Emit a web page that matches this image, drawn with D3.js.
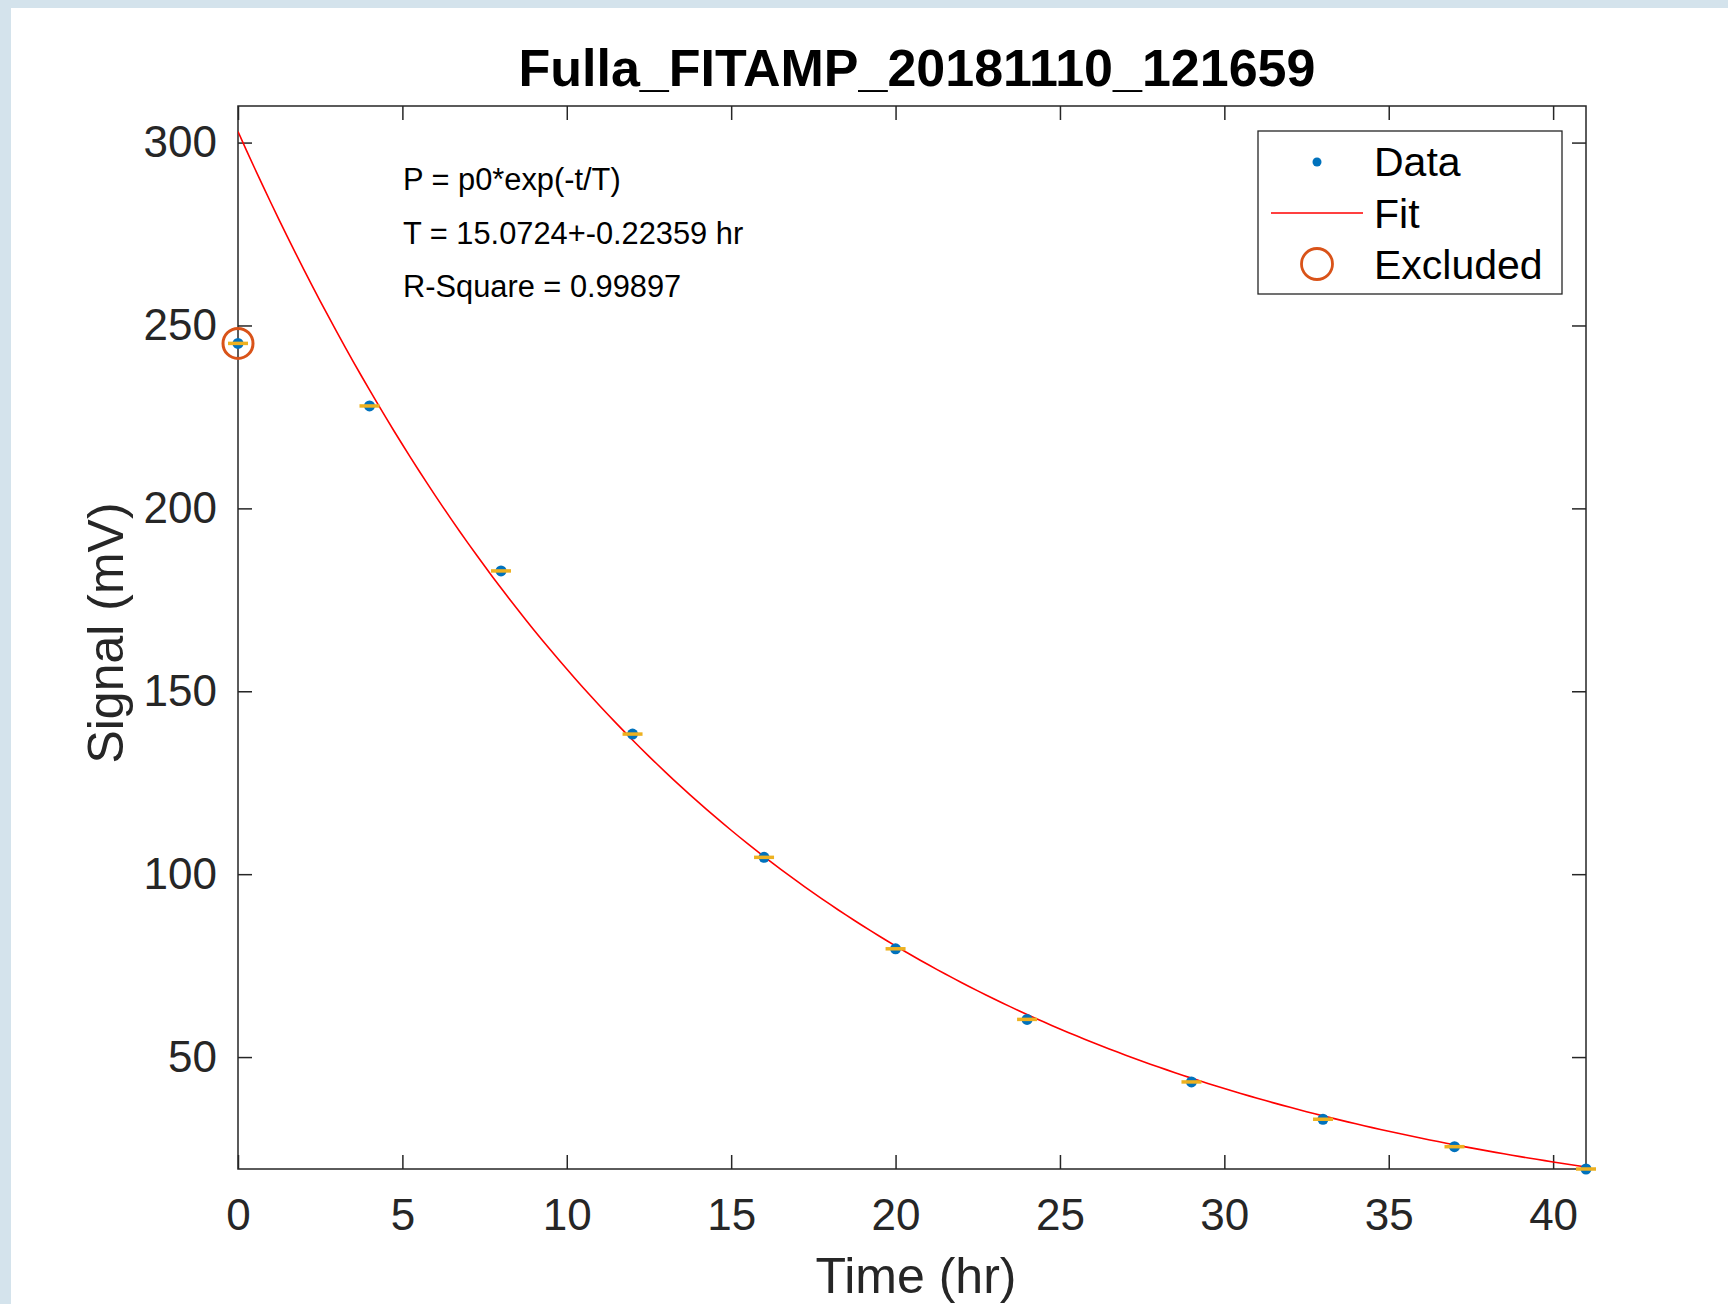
<!DOCTYPE html>
<html>
<head>
<meta charset="utf-8">
<script src="https://cdn.jsdelivr.net/npm/d3@7/dist/d3.min.js"></script>
<style>
  html, body { margin: 0; padding: 0; background: #d4e3ec; }
  svg { display: block; }
  text { font-family: "Liberation Sans", Arial, Helvetica, sans-serif; }
</style>
</head>
<body>
<script>
// Measured decay: time (hr) and signal (mV)
const times   = [0, 4, 8, 12, 16, 20, 24, 29, 33, 37, 41];
const signals = [245.1, 228.0, 182.9, 138.3, 104.6, 79.6, 60.3, 43.2, 33.0, 25.5, 19.4];
// Points left out of the fit
const excludedTimes   = [0];
const excludedSignals = [245.1];
// Exponential fit parameters
const fitP0 = 303;
const fitT = 15.0724;
const fitTErr = 0.22359;
const fitR2 = 0.99897;
// Axis ticks
const xTicks = [0, 5, 10, 15, 20, 25, 30, 35, 40];
const yTicks = [50, 100, 150, 200, 250, 300];
const xDomain = [0, 41];
const yDomain = [19.4, 310];

const W = 1728, H = 1304;
const plot = { left: 238, right: 1586, top: 106, bottom: 1169 };
const tickLen = 14;
const axisColor = "#262626";

const svg = d3.select("body").append("svg").attr("width", W).attr("height", H);

// Window backdrop and white figure area
svg.append("rect").attr("x", 0).attr("y", 0).attr("width", W).attr("height", H).attr("fill", "#d4e3ec");
svg.append("rect").attr("x", 11).attr("y", 8).attr("width", W - 11).attr("height", H - 8).attr("fill", "#ffffff");

const x = d3.scaleLinear().domain(xDomain).range([plot.left, plot.right]);
const y = d3.scaleLinear().domain(yDomain).range([plot.bottom, plot.top]);

const axesG = svg.append("g");

// Bottom axis: labels outside, ticks inward
const bottomAxis = d3.axisBottom(x).tickValues(xTicks).tickSize(-tickLen).tickPadding(30).tickFormat(d3.format("d"));
const gb = axesG.append("g").attr("transform", `translate(0,${plot.bottom})`).call(bottomAxis);
// Left axis
const leftAxis = d3.axisLeft(y).tickValues(yTicks).tickSize(-tickLen).tickPadding(21).tickFormat(d3.format("d"));
const gl = axesG.append("g").attr("transform", `translate(${plot.left},0)`).call(leftAxis);
// Top and right mirror axes (ticks only)
const gt = axesG.append("g").attr("transform", `translate(0,${plot.top})`)
  .call(d3.axisTop(x).tickValues(xTicks).tickSize(-tickLen).tickFormat(""));
const gr = axesG.append("g").attr("transform", `translate(${plot.right},0)`)
  .call(d3.axisRight(y).tickValues(yTicks).tickSize(-tickLen).tickFormat(""));

[gb, gl, gt, gr].forEach(g => {
  g.select(".domain").remove();
  g.selectAll(".tick line").attr("stroke", axisColor).attr("stroke-width", 1.5);
});
[gb, gl].forEach(g => {
  g.selectAll(".tick text").attr("fill", axisColor).style("font-size", "44px")
    .style("font-family", "'Liberation Sans', Arial, Helvetica, sans-serif");
});

// Axes box
axesG.append("rect")
  .attr("x", plot.left).attr("y", plot.top)
  .attr("width", plot.right - plot.left).attr("height", plot.bottom - plot.top)
  .attr("fill", "none").attr("stroke", axisColor).attr("stroke-width", 1.5);

// Fitted curve P = p0*exp(-t/T)
const fitTimes = d3.range(0, 41.0001, 0.25);
const line = d3.line().x(d => x(d[0])).y(d => y(d[1]));
svg.append("defs").append("clipPath").attr("id", "plotclip")
  .append("rect").attr("x", plot.left).attr("y", plot.top)
  .attr("width", plot.right - plot.left).attr("height", plot.bottom - plot.top);
svg.append("path")
  .datum(fitTimes.map(t => [t, fitP0 * Math.exp(-t / fitT)]))
  .attr("clip-path", "url(#plotclip)")
  .attr("d", line).attr("fill", "none").attr("stroke", "#ff0000").attr("stroke-width", 1.6);

// Data points with error-bar caps
const pts = times.map((t, i) => ({ t, v: signals[i] }));
const ptG = svg.append("g");
ptG.selectAll("circle.data").data(pts).enter().append("circle")
  .attr("class", "data")
  .attr("cx", d => x(d.t)).attr("cy", d => y(d.v)).attr("r", 5.5)
  .attr("fill", "#0072bd");
ptG.selectAll("line.cap").data(pts).enter().append("line")
  .attr("class", "cap")
  .attr("x1", d => x(d.t) - 10).attr("x2", d => x(d.t) + 10)
  .attr("y1", d => y(d.v)).attr("y2", d => y(d.v))
  .attr("stroke", "#edb120").attr("stroke-width", 3.5);

// Excluded points
svg.selectAll("circle.excl").data(excludedTimes.map((t, i) => ({ t, v: excludedSignals[i] })))
  .enter().append("circle").attr("class", "excl")
  .attr("cx", d => x(d.t)).attr("cy", d => y(d.v)).attr("r", 15)
  .attr("fill", "none").attr("stroke", "#d95319").attr("stroke-width", 3);

// Fit annotation
const notes = [
  "P = p0*exp(-t/T)",
  `T = ${fitT}+-${fitTErr} hr`,
  `R-Square = ${fitR2}`
];
svg.selectAll("text.note").data(notes).enter().append("text")
  .attr("class", "note")
  .attr("x", 403).attr("y", (d, i) => 190 + i * 53.5)
  .attr("fill", "#000").style("font-size", "30.8px").text(d => d);

// Title and axis labels
svg.append("text").attr("x", (plot.left + plot.right) / 2 + 5).attr("y", 86)
  .attr("text-anchor", "middle").style("font-size", "52px").style("font-weight", "bold")
  .attr("fill", "#000").text("Fulla_FITAMP_20181110_121659");
svg.append("text").attr("x", (plot.left + plot.right) / 2 + 4).attr("y", 1293)
  .attr("text-anchor", "middle").style("font-size", "50px").attr("fill", axisColor)
  .text("Time (hr)");
svg.append("text").attr("transform", `translate(123,633) rotate(-90)`)
  .attr("text-anchor", "middle").style("font-size", "50px").attr("fill", axisColor)
  .text("Signal (mV)");

// Legend
const lg = svg.append("g");
lg.append("rect").attr("x", 1258).attr("y", 131).attr("width", 304).attr("height", 163)
  .attr("fill", "#fff").attr("stroke", axisColor).attr("stroke-width", 1.3);
lg.append("circle").attr("cx", 1317).attr("cy", 162).attr("r", 4.5).attr("fill", "#0072bd");
lg.append("line").attr("x1", 1271).attr("x2", 1363).attr("y1", 213).attr("y2", 213)
  .attr("stroke", "#ff0000").attr("stroke-width", 1.5);
lg.append("circle").attr("cx", 1317).attr("cy", 264).attr("r", 15.5)
  .attr("fill", "none").attr("stroke", "#d95319").attr("stroke-width", 2.8);
const legendLabels = ["Data", "Fit", "Excluded"];
lg.selectAll("text").data(legendLabels).enter().append("text")
  .attr("x", 1374).attr("y", (d, i) => 176 + i * 51.5)
  .style("font-size", "41px").attr("fill", "#000").text(d => d);
</script>
</body>
</html>
